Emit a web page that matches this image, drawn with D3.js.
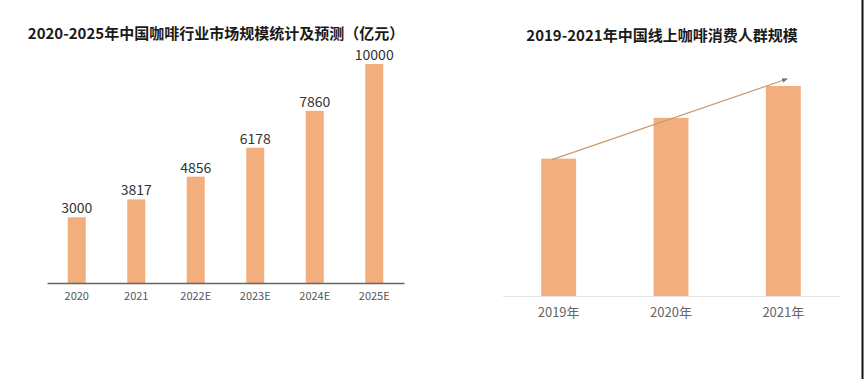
<!DOCTYPE html>
<html><head><meta charset="utf-8">
<script src="https://cdn.jsdelivr.net/npm/d3@7"></script>
<style>
html,body{margin:0;padding:0;background:#fff;}
svg{display:block;font-family:"Noto Sans CJK SC","Noto Sans",sans-serif;}
</style></head>
<body>
<svg id="c" width="864" height="379"></svg>
<script>
// Left chart data
const leftTitle = "2020-2025年中国咖啡行业市场规模统计及预测（亿元）";
const leftCategories = ["2020","2021","2022E","2023E","2024E","2025E"];
const leftValues = [3000,3817,4856,6178,7860,10000];
// Right chart data (relative scale, no values shown)
const rightTitle = "2019-2021年中国线上咖啡消费人群规模";
const rightCategories = ["2019年","2020年","2021年"];
const rightValues = [138,179,211];

const svg = d3.select("#c");
const barColor = "#f3ae7e";

// ---------- Left chart ----------
const L = {x0:47, x1:404, base:283, top:64};
const xL = d3.scaleBand().domain(leftCategories).range([L.x0, L.x1]).paddingInner(0.6975).paddingOuter(0.6975/2);
const yL = d3.scaleLinear().domain([0,10000]).range([L.base, L.top]);

svg.append("text").attr("x",216).attr("y",39).attr("text-anchor","middle")
  .attr("font-size",15).attr("font-weight","bold").attr("fill","#1a1a1a").text(leftTitle);

const gL = svg.append("g");
gL.selectAll("rect").data(leftValues).join("rect")
  .attr("x",(d,i)=>xL(leftCategories[i])).attr("width",xL.bandwidth())
  .attr("y",d=>yL(d)).attr("height",d=>L.base-yL(d)).attr("fill",barColor);
gL.selectAll("text.v").data(leftValues).join("text").attr("class","v")
  .attr("x",(d,i)=>xL(leftCategories[i])+xL.bandwidth()/2).attr("y",d=>yL(d)-4)
  .attr("text-anchor","middle").attr("font-size",14).attr("fill","#333").text(d=>d);

const axL = svg.append("g").attr("transform",`translate(0,${L.base})`)
  .call(d3.axisBottom(xL).tickSize(0).tickPadding(9));
axL.select(".domain").attr("stroke","#666").attr("stroke-width",1.5);
axL.selectAll("text").attr("font-size",11).attr("fill","#555").attr("font-family","'Noto Sans CJK SC',sans-serif");

// ---------- Right chart ----------
const R = {x0:502.5, x1:839.5, base:296, top:86};
const xR = d3.scaleBand().domain(rightCategories).range([R.x0, R.x1]).paddingInner(0.689).paddingOuter(0.689/2);
const yR = d3.scaleLinear().domain([0,211]).range([R.base, R.top]);

svg.append("text").attr("x",662).attr("y",41).attr("text-anchor","middle")
  .attr("font-size",15).attr("font-weight","bold").attr("fill","#1a1a1a").text(rightTitle);

const gR = svg.append("g");
gR.selectAll("rect").data(rightValues).join("rect")
  .attr("x",(d,i)=>xR(rightCategories[i])).attr("width",xR.bandwidth())
  .attr("y",d=>yR(d)).attr("height",d=>R.base-yR(d)).attr("fill",barColor);

const axR = svg.append("g").attr("transform",`translate(0,${R.base})`)
  .call(d3.axisBottom(xR).tickSize(0).tickPadding(12));
axR.select(".domain").attr("stroke","#e4e4e4").attr("stroke-width",1);
axR.selectAll("text").attr("font-size",13).attr("fill","#666").attr("font-family","'Noto Sans CJK SC',sans-serif");

// trend arrow from first bar top to beyond last bar top
const defs = svg.append("defs");
defs.append("marker").attr("id","ah").attr("viewBox","0 0 10 10").attr("refX",8).attr("refY",5)
  .attr("markerWidth",5).attr("markerHeight",5).attr("orient","auto")
  .append("path").attr("d","M0,1L10,5L0,9Z").attr("fill","#8a7060");
const first = xR(rightCategories[0])+xR.bandwidth()*0.31;
const last = xR(rightCategories[2])+xR.bandwidth()*0.6;
svg.append("line").attr("x1",first).attr("y1",yR(rightValues[0])+1)
  .attr("x2",last).attr("y2",yR(rightValues[2])-7)
  .attr("stroke","#c99a6c").attr("stroke-width",1.2).attr("marker-end","url(#ah)");

// right border line
svg.append("line").attr("x1",862.5).attr("x2",862.5).attr("y1",0).attr("y2",379)
  .attr("stroke","#111").attr("stroke-width",2);
</script>
</body></html>
